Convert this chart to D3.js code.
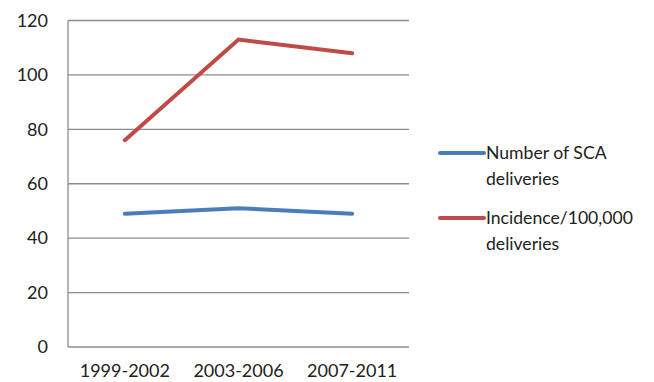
<!DOCTYPE html>
<html><head><meta charset="utf-8">
<script src="https://cdn.jsdelivr.net/npm/d3@7"></script>
<style>body{margin:0;background:#fff}svg{display:block}text{font-family:Lato,"Open Sans",sans-serif;fill:#222}</style>
</head><body><svg id="c" width="654" height="382"></svg>
<script>
const categories = ["1999-2002","2003-2006","2007-2011"];
const seriesNames = ["Number of SCA deliveries","Incidence/100,000 deliveries"];
const scaDeliveries = [49, 51, 49];
const incidence = [76, 113, 108];
const yTicks = [0,20,40,60,80,100,120];
const colors = ["#4a7ebb","#be4b48"];

const svg = d3.select("#c");
const L = 68, R = 409, T = 20.5, B = 347;
const x = d3.scaleBand().domain(categories).range([L, R]);
const y = d3.scaleLinear().domain([0,120]).range([B, T]);

svg.append("g").selectAll("line").data(yTicks).join("line")
  .attr("x1", L).attr("x2", R).attr("y1", d=>y(d)).attr("y2", d=>y(d))
  .attr("stroke","#8c8c8c").attr("stroke-width",1.3);
svg.append("line").attr("x1",L).attr("x2",L).attr("y1",T).attr("y2",B)
  .attr("stroke","#8c8c8c").attr("stroke-width",1.3);

const ya = svg.append("g").attr("transform",`translate(${L},0)`)
  .call(d3.axisLeft(y).tickValues(yTicks).tickSize(0).tickPadding(20));
ya.select(".domain").remove();
ya.selectAll("text").attr("font-size",18).attr("font-family","Lato, sans-serif").attr("fill","#222");

const xa = svg.append("g").attr("transform",`translate(0,${B})`)
  .call(d3.axisBottom(x).tickSize(0).tickPadding(17));
xa.select(".domain").remove();
xa.selectAll("text").attr("font-size",18).attr("font-family","Lato, sans-serif").attr("fill","#222");

const line = d3.line().x((d,i)=>x(categories[i])+x.bandwidth()/2).y(d=>y(d));
[scaDeliveries, incidence].forEach((s,i)=>{
  svg.append("path").datum(s).attr("d",line).attr("fill","none")
    .attr("stroke",colors[i]).attr("stroke-width",4).attr("stroke-linecap","round");
});

const leg = [{c:colors[0],lines:["Number of SCA","deliveries"],y:153},
             {c:colors[1],lines:["Incidence/100,000","deliveries"],y:218}];
leg.forEach(l=>{
  svg.append("line").attr("x1",440).attr("x2",484).attr("y1",l.y).attr("y2",l.y)
    .attr("stroke",l.c).attr("stroke-width",4).attr("stroke-linecap","round");
  const t = svg.append("text").attr("x",486).attr("y",l.y+6).attr("font-size",17.6);
  l.lines.forEach((s,j)=>t.append("tspan").attr("x",486).attr("dy",j?26:0).text(s));
});
</script></body></html>
